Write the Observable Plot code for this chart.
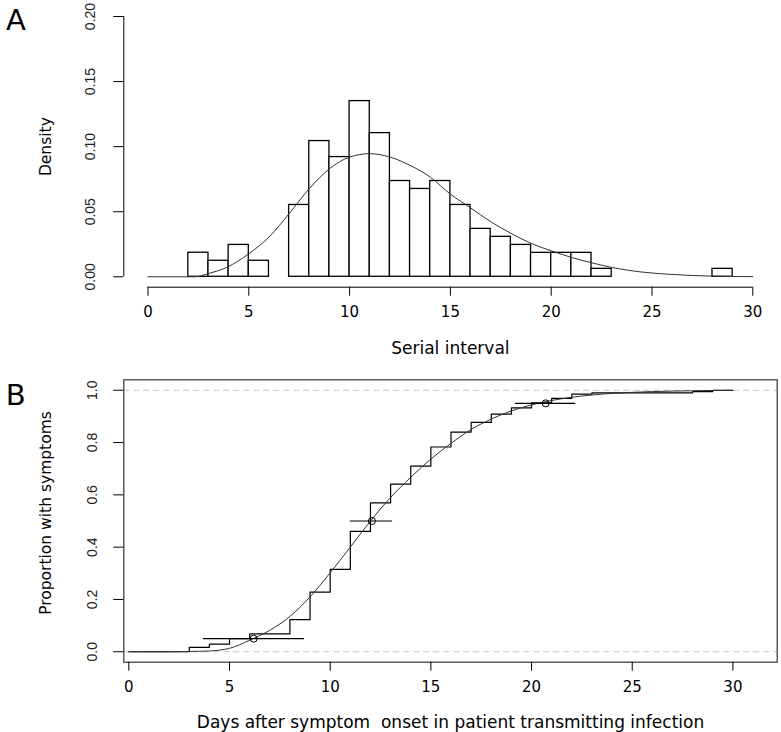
<!DOCTYPE html>
<html>
<head>
<meta charset="utf-8">
<script src="https://cdn.jsdelivr.net/npm/d3@7"></script>
<script src="https://cdn.jsdelivr.net/npm/@observablehq/plot@0.6"></script>
<style>
  body { margin: 0; background: #fff; }
  #chart { width: 781px; height: 732px; background: #fff; }
  #chart svg { display: block; }
</style>
</head>
<body>
<div id="chart"></div>
<script>
// ---------- Panel A: histogram of serial intervals ----------
const binStart   = [2, 3, 4, 5, 7, 8, 9, 10, 11, 12, 13, 14, 15, 16, 17, 18, 19, 20, 21, 22, 28];
const binEnd     = [3, 4, 5, 6, 8, 9, 10, 11, 12, 13, 14, 15, 16, 17, 18, 19, 20, 21, 22, 23, 29];
const binDensity = [0.0185, 0.0123, 0.0245, 0.0123, 0.0552, 0.1043, 0.0920, 0.1350, 0.1104, 0.0736, 0.0675,
                    0.0736, 0.0552, 0.0368, 0.0307, 0.0245, 0.0184, 0.0184, 0.0184, 0.0061, 0.0061];

// fitted density curve
const curveAx = [0, 1, 2, 2.33, 3, 3.9, 5, 6, 7, 8, 9, 10, 11, 12, 13, 14, 15, 16, 17, 18, 19, 20, 21, 22, 23, 24.4, 26, 28, 30];
const curveAy = [0, 0, 0, 0, 0.0025, 0.0072, 0.0177, 0.0305, 0.0485, 0.0677, 0.0830, 0.0920, 0.0946, 0.0920, 0.0856,
                 0.0766, 0.0635, 0.0530, 0.0423, 0.0334, 0.0257, 0.0200, 0.0149, 0.0108, 0.0072, 0.0038, 0.0018, 0.0005, 0.0001];

const xTicksA = [0, 5, 10, 15, 20, 25, 30];
const yTicksA = [0, 0.05, 0.10, 0.15, 0.20];
const xDomainA = [-1.2, 31.2];
const yDomainA = [-0.008, 0.208];
const xLabelA = "Serial interval";
const yLabelA = "Density";
const panelA = "A";

// ---------- Panel B: cumulative proportion ----------
const ecdfX = [0, 3, 4, 5, 6, 8, 9, 10, 11, 12, 13, 14, 15, 16, 17, 18, 19, 20, 21, 22, 23, 28, 29, 30];
const ecdfY = [0, 0.017, 0.029, 0.050, 0.068, 0.123, 0.228, 0.315, 0.460, 0.569, 0.641, 0.710, 0.783, 0.840,
               0.877, 0.909, 0.933, 0.952, 0.969, 0.985, 0.990, 0.995, 1.0, 1.0];

const curveBx = [0, 2, 3, 4, 5, 6, 7, 8, 9, 10, 11, 12, 13, 14, 15, 16, 17, 18, 19, 20, 21, 22, 23, 24, 25, 26, 28, 30];
const curveBy = [0, 0, 0.001, 0.003, 0.013, 0.044, 0.082, 0.135, 0.210, 0.302, 0.400, 0.500, 0.590, 0.667, 0.737,
                 0.797, 0.850, 0.890, 0.921, 0.944, 0.961, 0.973, 0.982, 0.988, 0.992, 0.995, 0.998, 1.0];

// quantiles with intervals
const ciP   = [0.05, 0.50, 0.95];
const ciMid = [6.2, 12.07, 20.7];
const ciLo  = [3.7, 11.0, 19.2];
const ciHi  = [8.72, 13.1, 22.2];

const refLinesB = [0, 1];
const xTicksB = [0, 5, 10, 15, 20, 25, 30];
const yTicksB = [0, 0.2, 0.4, 0.6, 0.8, 1.0];
const xDomainB = [-0.25, 32.2];
const yDomainB = [-0.04, 1.04];
const xLabelB = "Days after symptom  onset in patient transmitting infection";
const yLabelB = "Proportion with symptoms";
const panelB = "B";

// ---------- build ----------
const labelFont = "'DejaVu Sans', sans-serif";
const tickFont = "'Liberation Sans', Arial, sans-serif";
const letterFont = "'DejaVu Sans', sans-serif";

const histA = binStart.map((s, i) => ({x1: s, x2: binEnd[i], y0: 0, y: binDensity[i]}));
const curveA = curveAx.map((x, i) => ({x, y: curveAy[i]}));
const ecdf = ecdfX.map((x, i) => ({x, y: ecdfY[i]}));
const curveB = curveBx.map((x, i) => ({x, y: curveBy[i]}));
const ci = ciP.map((p, i) => ({p, mid: ciMid[i], lo: ciLo[i], hi: ciHi[i]}));

const styleBase = {fontFamily: labelFont, fontSize: "15px", color: "black", background: "white", overflow: "visible"};
const centered = {textAnchor: "middle", lineAnchor: "middle"};

const plotA = Plot.plot({
  width: 781,
  height: 362,
  marginLeft: 123.3,
  marginRight: 4.5,
  marginTop: 5.6,
  marginBottom: 75.3,
  x: {domain: xDomainA},
  y: {domain: yDomainA},
  style: styleBase,
  marks: [
    Plot.rect(histA, {x1: "x1", x2: "x2", y1: "y0", y2: "y", fill: "white", stroke: "black", strokeWidth: 1.3}),
    Plot.line(curveA, {x: "x", y: "y", curve: "monotone-x", stroke: "#333", strokeWidth: 1}),
    // detached R-style axis lines
    Plot.ruleY([yDomainA[0]], {x1: () => xTicksA[0], x2: () => xTicksA[xTicksA.length - 1], stroke: "black"}),
    Plot.ruleX([xDomainA[0]], {y1: () => yTicksA[0], y2: () => yTicksA[yTicksA.length - 1], stroke: "black"}),
    Plot.axisX(xTicksA, {tickSize: 9, tickPadding: 10, label: null, tickFormat: d => String(d)}),
    Plot.axisY(yTicksA, {tickSize: 10, label: null, tickFormat: () => ""}),
    Plot.text(yTicksA, {y: d => d, text: d => d.toFixed(2), frameAnchor: "left", dx: -33, rotate: -90,
                        ...centered, fontSize: 14, fontFamily: tickFont, fill: "#222"}),
    Plot.text([xLabelA], {frameAnchor: "bottom", dy: 61.3, ...centered, fontSize: 17, fontFamily: labelFont}),
    Plot.text([yLabelA], {frameAnchor: "left", dx: -78, rotate: -90, ...centered, fontSize: 15.5, fontFamily: labelFont}),
    Plot.text([panelA], {frameAnchor: "top-left", dx: -108, dy: 14.4, ...centered, fontSize: 29, fontFamily: letterFont})
  ]
});

const plotB = Plot.plot({
  width: 781,
  height: 370,
  marginLeft: 123.3,
  marginRight: 4.3,
  marginTop: 17.3,
  marginBottom: 70.3,
  x: {domain: xDomainB},
  y: {domain: yDomainB},
  style: styleBase,
  marks: [
    Plot.ruleY(refLinesB, {stroke: "#c4c4c4", strokeDasharray: "6,4", strokeWidth: 1}),
    Plot.line(ecdf, {x: "x", y: "y", curve: "step-after", stroke: "black", strokeWidth: 1.2}),
    Plot.line(curveB, {x: "x", y: "y", curve: "monotone-x", stroke: "#333", strokeWidth: 1}),
    Plot.ruleY(ci, {y: "p", x1: "lo", x2: "hi", stroke: "black", strokeWidth: 1.2}),
    Plot.dot(ci, {x: "mid", y: "p", r: 3.5, stroke: "black", fill: "none", strokeWidth: 1}),
    Plot.frame({stroke: "#333", strokeWidth: 1.2}),
    Plot.axisX(xTicksB, {tickSize: 9, tickPadding: 10, label: null, tickFormat: d => String(d)}),
    Plot.axisY(yTicksB, {tickSize: 10, label: null, tickFormat: () => ""}),
    Plot.text(yTicksB, {y: d => d, text: d => d.toFixed(1), frameAnchor: "left", dx: -31, rotate: -90,
                        ...centered, fontSize: 14, fontFamily: tickFont, fill: "#222"}),
    Plot.text([xLabelB], {frameAnchor: "bottom", dy: 60.3, ...centered, fontSize: 17, fontFamily: labelFont}),
    Plot.text([yLabelB], {frameAnchor: "left", dx: -78, dy: -8, rotate: -90, ...centered, fontSize: 15.5, fontFamily: labelFont}),
    Plot.text([panelB], {frameAnchor: "top-left", dx: -108, dy: 15.7, ...centered, fontSize: 29, fontFamily: letterFont})
  ]
});

const chart = document.getElementById("chart");
chart.appendChild(plotA);
chart.appendChild(plotB);
</script>
</body>
</html>
